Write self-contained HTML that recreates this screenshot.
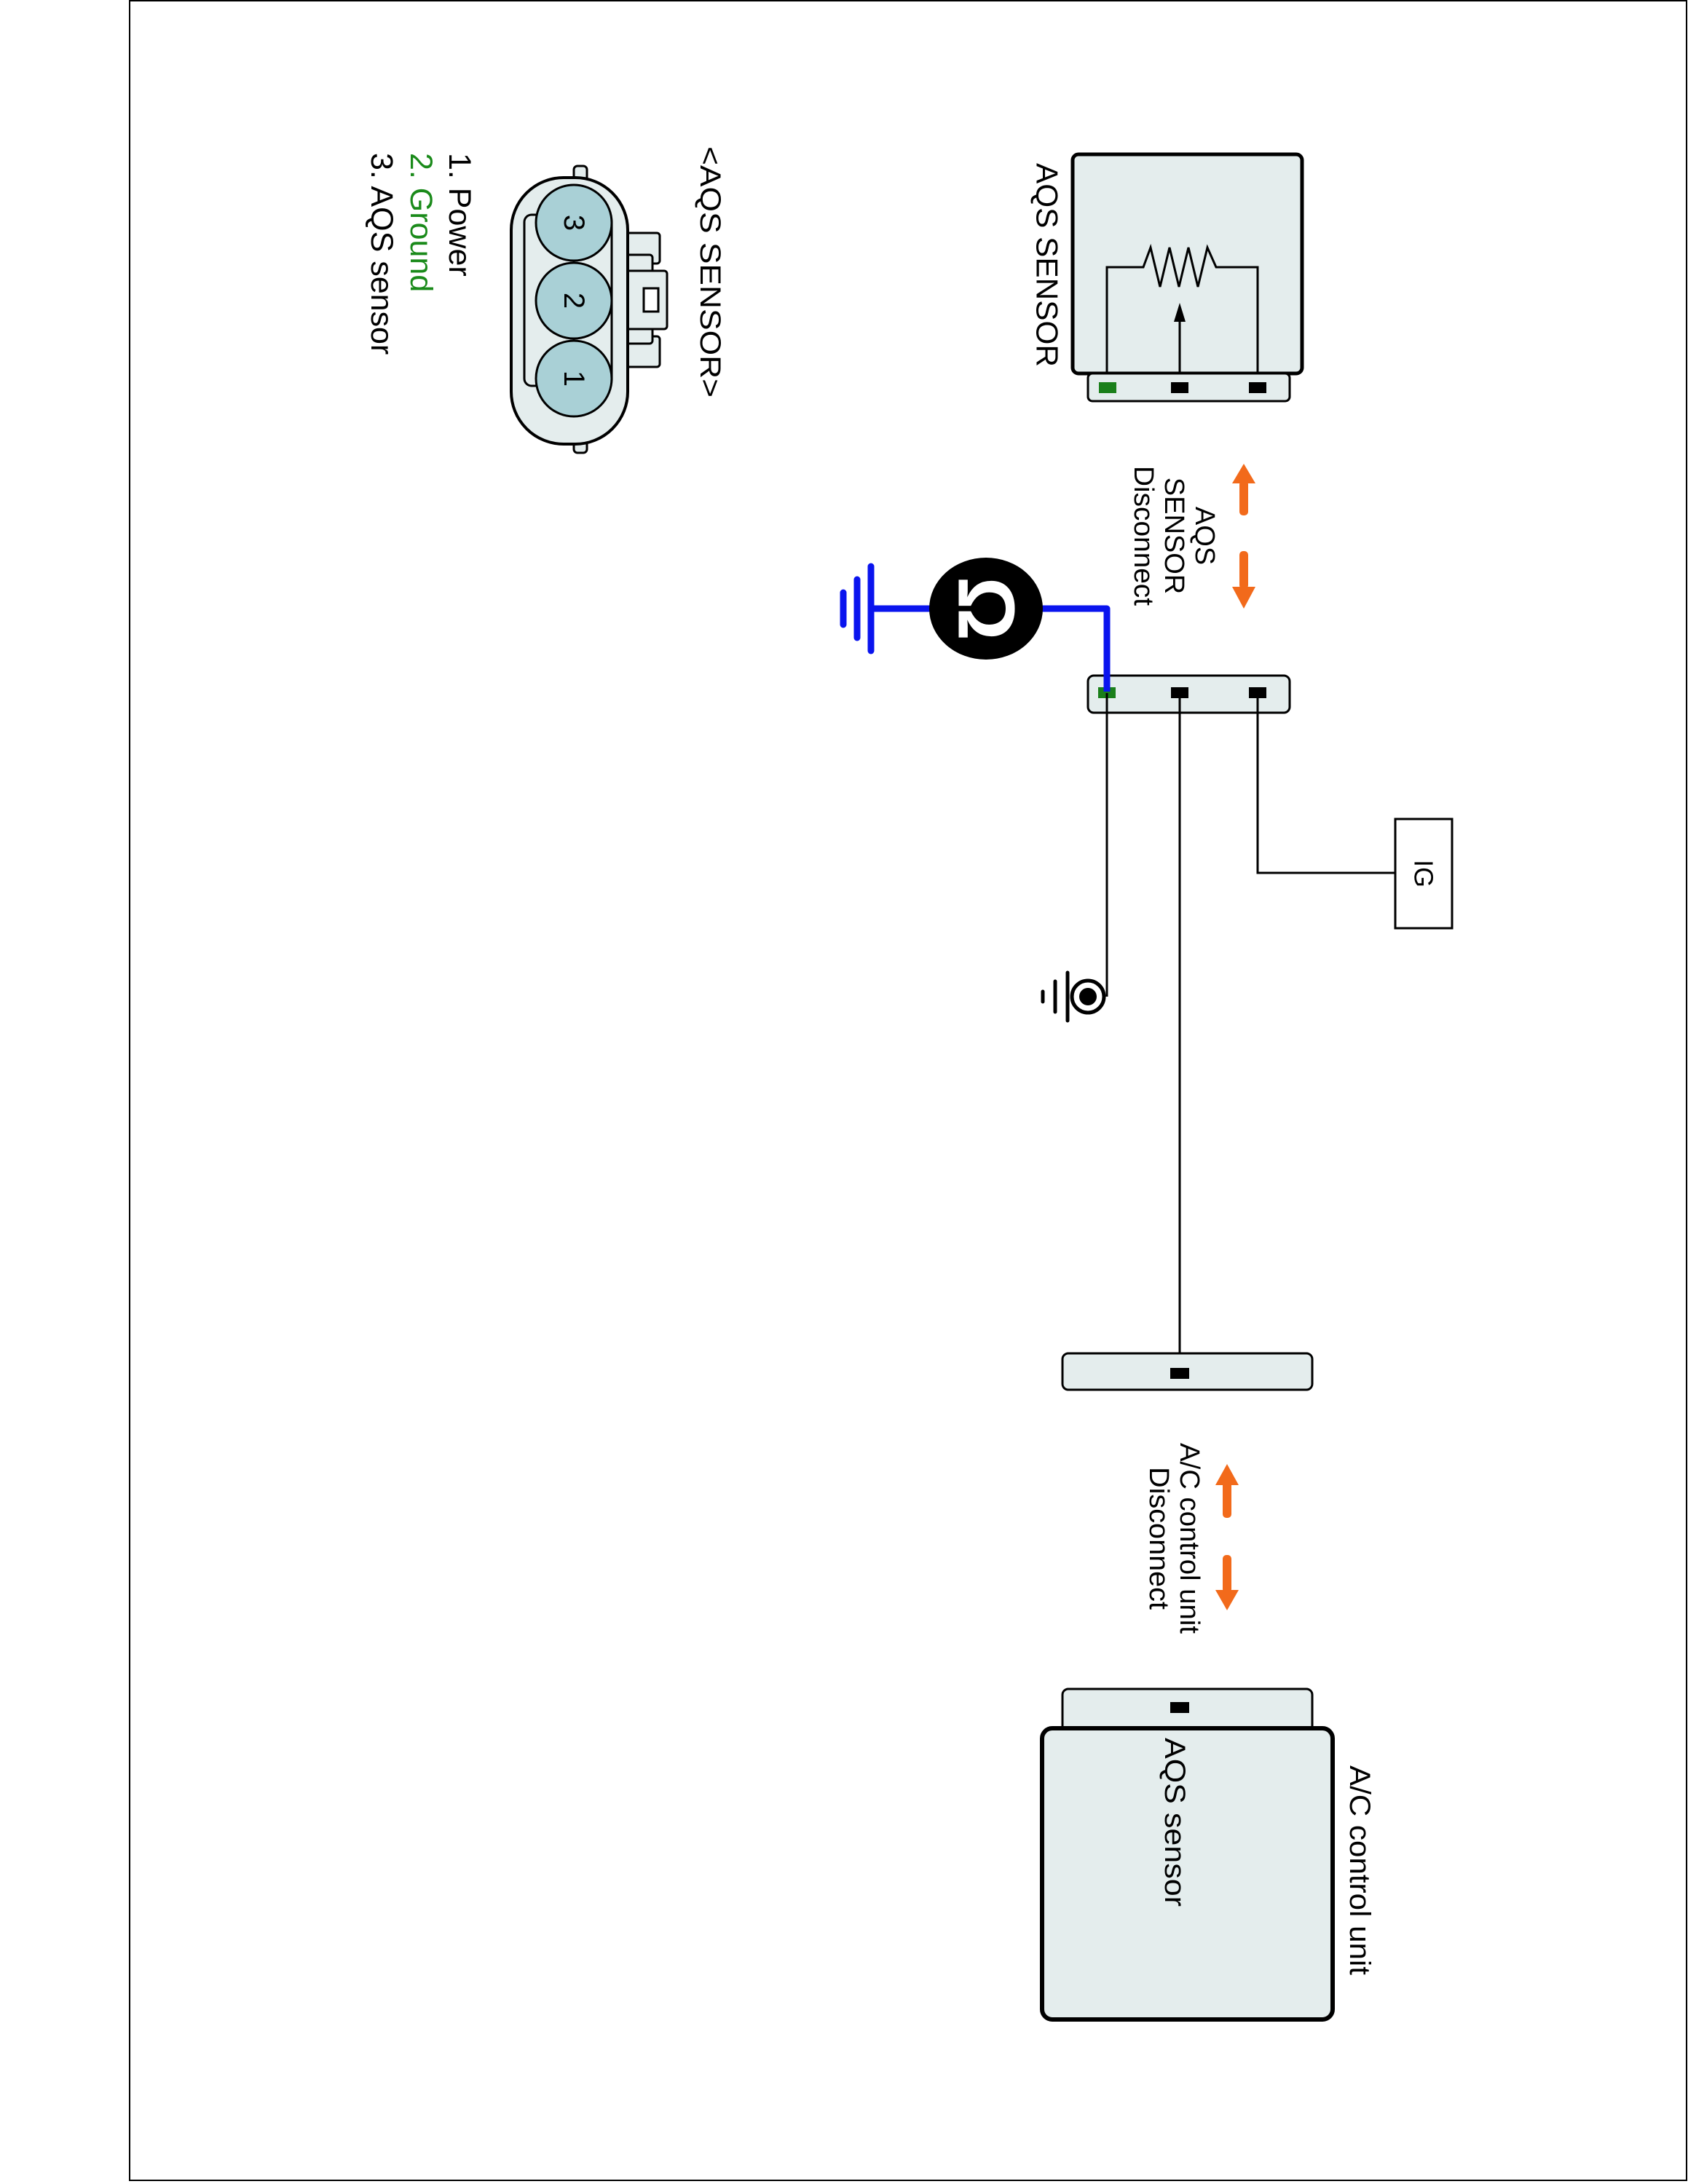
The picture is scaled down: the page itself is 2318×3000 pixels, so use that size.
<!DOCTYPE html>
<html><head><meta charset="utf-8"><style>
html,body{margin:0;padding:0;background:#fff;}
svg{display:block;}
text{font-family:"Liberation Sans",Arial,sans-serif;}
</style></head><body>
<svg width="2318" height="3000" viewBox="0 0 2318 3000" xmlns="http://www.w3.org/2000/svg">
<rect x="0" y="0" width="2318" height="3000" fill="#fff"/>
<rect x="178" y="1" width="2138" height="2994" fill="none" stroke="#000" stroke-width="2"/>

<!-- AQS SENSOR box -->
<rect x="1473" y="212" width="315" height="301" rx="8" fill="#e4eded" stroke="#000" stroke-width="5"/>
<rect x="1494" y="513" width="277" height="38" rx="6" fill="#e4eded" stroke="#000" stroke-width="3"/>
<rect x="1509" y="525" width="24" height="15" fill="#1a7f1a"/>
<rect x="1608" y="525" width="24" height="15" fill="#000"/>
<rect x="1715" y="525" width="24" height="15" fill="#000"/>
<polyline points="1520,513 1520,367 1570,367 1580,340 1593,394 1606,340 1619,394 1632,340 1645,394 1658,340 1670,367 1727,367 1727,513" fill="none" stroke="#000" stroke-width="3"/>
<line x1="1620" y1="513" x2="1620" y2="440" stroke="#000" stroke-width="3"/>
<polygon points="1620,416 1612,442 1628,442" fill="#000"/>
<text transform="translate(1438,224) rotate(90)" font-size="42" dominant-baseline="central" textLength="280" lengthAdjust="spacingAndGlyphs">AQS SENSOR</text>

<!-- disconnect arrows 1 -->
<g fill="#f26a1b">
<rect x="1702" y="660" width="12" height="48" rx="5"/>
<polygon points="1708,637 1692,664 1724,664"/>
<rect x="1702" y="757" width="12" height="52" rx="5"/>
<polygon points="1708,836 1692,806 1724,806"/>
</g>
<g font-size="38" text-anchor="middle" dominant-baseline="central">
<text transform="translate(1654,736) rotate(90)">AQS</text>
<text transform="translate(1612,736) rotate(90)">SENSOR</text>
<text transform="translate(1570,736) rotate(90)" textLength="192" lengthAdjust="spacingAndGlyphs">Disconnect</text>
</g>

<!-- lower AQS connector -->
<rect x="1494" y="928" width="277" height="51" rx="8" fill="#e4eded" stroke="#000" stroke-width="3"/>
<rect x="1508" y="944" width="24" height="15" fill="#1a7f1a"/>
<rect x="1608" y="944" width="24" height="15" fill="#000"/>
<rect x="1715" y="944" width="24" height="15" fill="#000"/>

<!-- wires -->
<line x1="1520" y1="952" x2="1520" y2="1369" stroke="#000" stroke-width="3"/>
<line x1="1620" y1="952" x2="1620" y2="1886" stroke="#000" stroke-width="3"/>
<polyline points="1727,952 1727,1199 1916,1199" fill="none" stroke="#000" stroke-width="3"/>

<!-- ground symbol -->
<circle cx="1494" cy="1369" r="22" fill="#fff" stroke="#000" stroke-width="5"/>
<circle cx="1494" cy="1369" r="12" fill="#000"/>
<line x1="1466" y1="1336" x2="1466" y2="1402" stroke="#000" stroke-width="5" stroke-linecap="round"/>
<line x1="1449" y1="1348" x2="1449" y2="1390" stroke="#000" stroke-width="5" stroke-linecap="round"/>
<line x1="1432" y1="1362" x2="1432" y2="1376" stroke="#000" stroke-width="5" stroke-linecap="round"/>

<!-- IG box -->
<rect x="1916" y="1125" width="78" height="150" fill="#fff" stroke="#000" stroke-width="3"/>
<text transform="translate(1955,1200) rotate(90)" font-size="36" text-anchor="middle" dominant-baseline="central">IG</text>

<!-- ohmmeter blue -->
<polyline points="1520,950 1520,836 1300,836" fill="none" stroke="#0a14ee" stroke-width="9" stroke-linejoin="round"/>
<line x1="1199" y1="836" x2="1300" y2="836" stroke="#0a14ee" stroke-width="9"/>
<line x1="1196" y1="778" x2="1196" y2="894" stroke="#0a14ee" stroke-width="9" stroke-linecap="round"/>
<line x1="1177" y1="796" x2="1177" y2="876" stroke="#0a14ee" stroke-width="9" stroke-linecap="round"/>
<line x1="1158" y1="814" x2="1158" y2="858" stroke="#0a14ee" stroke-width="9" stroke-linecap="round"/>
<ellipse cx="1354" cy="836" rx="78" ry="70" fill="#000"/>
<text transform="translate(1354,836) rotate(90)" font-size="110" font-weight="bold" fill="#fff" text-anchor="middle" dominant-baseline="central">Ω</text>

<!-- A/C connector -->
<rect x="1459" y="1859" width="343" height="50" rx="8" fill="#e4eded" stroke="#000" stroke-width="3"/>
<rect x="1607" y="1879" width="26" height="15" fill="#000"/>

<!-- disconnect arrows 2 -->
<g fill="#f26a1b">
<rect x="1679" y="2035" width="12" height="50" rx="5"/>
<polygon points="1685,2011 1669,2040 1701,2040"/>
<rect x="1679" y="2136" width="12" height="52" rx="5"/>
<polygon points="1685,2212 1669,2184 1701,2184"/>
</g>
<g font-size="38" text-anchor="middle" dominant-baseline="central">
<text transform="translate(1633,2113) rotate(90)" textLength="262" lengthAdjust="spacingAndGlyphs">A/C control unit</text>
<text transform="translate(1591,2113) rotate(90)" textLength="196" lengthAdjust="spacingAndGlyphs">Disconnect</text>
</g>

<!-- A/C unit -->
<rect x="1459" y="2320" width="343" height="60" rx="8" fill="#e4eded" stroke="#000" stroke-width="3"/>
<rect x="1607" y="2338" width="26" height="15" fill="#000"/>
<rect x="1431" y="2374" width="399" height="400" rx="14" fill="#e4eded" stroke="#000" stroke-width="6"/>
<text transform="translate(1613,2387) rotate(90)" font-size="40" dominant-baseline="central" textLength="232" lengthAdjust="spacingAndGlyphs">AQS sensor</text>
<text transform="translate(1867,2425) rotate(90)" font-size="40" dominant-baseline="central" textLength="288" lengthAdjust="spacingAndGlyphs">A/C control unit</text>

<!-- connector face diagram -->
<g stroke="#000" stroke-width="3" fill="#e4eded">
<rect x="788" y="228" width="18" height="30" rx="5"/>
<rect x="788" y="592" width="18" height="30" rx="5"/>
<rect x="860" y="320" width="46" height="42" rx="4"/>
<rect x="860" y="462" width="46" height="42" rx="4"/>
<rect x="860" y="350" width="36" height="122" rx="4"/>
<rect x="860" y="372" width="56" height="80" rx="4"/>
<rect x="702" y="244" width="160" height="366" rx="72" stroke-width="4"/>
<rect x="720" y="295" width="120" height="235" rx="10" fill="#e4eded"/>
<rect x="884" y="396" width="20" height="32" fill="#fff"/>
</g>
<g stroke="#000" stroke-width="3" fill="#a9d0d6">
<circle cx="788" cy="306" r="52"/>
<circle cx="788" cy="413" r="52"/>
<circle cx="788" cy="520" r="52"/>
</g>
<g font-size="40" text-anchor="middle" dominant-baseline="central">
<text transform="translate(788,306) rotate(90)">3</text>
<text transform="translate(788,413) rotate(90)">2</text>
<text transform="translate(788,520) rotate(90)">1</text>
</g>
<text transform="translate(975,201) rotate(90)" font-size="40" dominant-baseline="central" textLength="345" lengthAdjust="spacingAndGlyphs">&lt;AQS SENSOR&gt;</text>
<text transform="translate(631,210) rotate(90)" font-size="43" dominant-baseline="central">1. Power</text>
<text transform="translate(578,210) rotate(90)" font-size="43" fill="#1a8a1a" dominant-baseline="central">2. Ground</text>
<text transform="translate(524,210) rotate(90)" font-size="43" dominant-baseline="central">3. AQS sensor</text>
</svg>
</body></html>
